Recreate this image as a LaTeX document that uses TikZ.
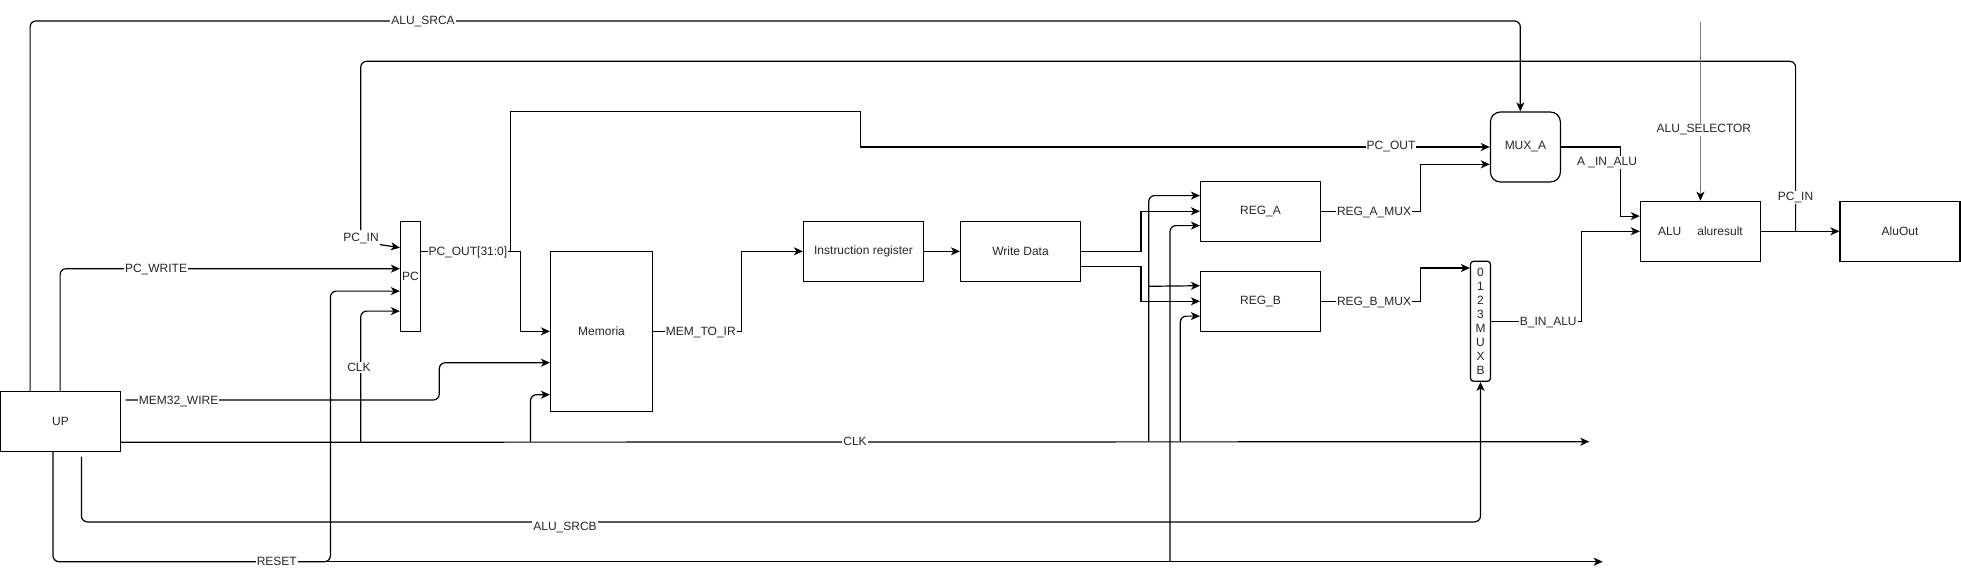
\documentclass[tikz,border=0pt]{standalone}
\usepackage{fontspec}
\setmainfont{Liberation Sans}
\usetikzlibrary{arrows.meta,calc}
\newcommand\labfont{\fontsize{12}{14}\selectfont}
\definecolor{txt}{HTML}{262626}
\definecolor{selgray}{HTML}{7A7A7A}
\begin{document}
\begin{tikzpicture}[x=1pt,y=-1pt,
  box/.style={draw,line width=1.2pt,inner sep=0pt,font=\labfont,text=txt,minimum width=120pt,minimum height=60pt},
  wire/.style={line width=1.2pt},
  arr/.style={wire,-{Stealth[length=9pt,width=8pt,inset=2.5pt]}},
  lbl/.style={fill=white,inner sep=1pt,font=\labfont,text=txt}]
\useasboundingbox (0,0) rectangle (1961,570);

% blocks
\node[box] (UP) at (60.5,421.5) {UP};
\node[box,minimum width=20pt,minimum height=110pt] (PC) at (410.5,276.3) {PC};
\node[box,minimum width=102pt,minimum height=160pt] (MEM) at (601.5,331.3) {Memoria};
\node[box] (IR) at (863.5,251.3) {Instruction register};
\node[box] (WD) at (1020.5,251.3) {Write Data};
\node[box] (REGA) at (1260.5,211.2) {REG\_A};
\node[box] (REGB) at (1260.5,301.3) {REG\_B};
\node[box,rounded corners=10pt,minimum width=70pt,minimum height=70pt] (MUXA) at (1525.4,147) {MUX\_A};
\node[box,rounded corners=3pt,minimum width=20pt,minimum height=120pt,align=center] (MUXB) at (1480.5,321.3) {0\\1\\2\\3\\M\\U\\X\\B};
\node[box] (ALU) at (1700.4,231.3) {ALU\hspace{16pt}aluresult};
\node[box] (AOUT) at (1900,231.3) {AluOut};

% free ends / junctions
\coordinate (pcinA) at (360.7,230);
\coordinate (rj) at (330.4,561.7);
\coordinate (resetend) at (1602.7,561.7);
\coordinate (clkend) at (1589.3,441.7);
\coordinate (c1) at (360.7,441.7);
\coordinate (c2) at (530.5,441.7);
\coordinate (c3) at (1148.7,441.7);
\coordinate (c3b) at (1148.7,286.3);
\coordinate (c4) at (1180.3,441.7);
\coordinate (r2) at (1170,561.7);
\coordinate (srcbst) at (81.4,456.7);
\coordinate (m32st) at (125.7,400);
\coordinate (pj) at (510.3,251.7);
\coordinate (selst) at (1700.4,21.7);

% ALU_SRCA
\draw[arr,rounded corners=6pt] ($(UP.north west)+(30.2,0)$) -- ++(0,-370) -| ($(MUXA.north)+(-5.1,0)$);
% PC_IN (from ALU result)
\draw[wire,rounded corners=6pt] ($(ALU.east)+(34.6,0)$) -- ++(0,-170) -| (pcinA);
\node[lbl,fill=none] (lpcin) at (361,238) {PC\_IN};
\draw[arr] (lpcin.south east) -- ($(PC.north west)+(0,27)$);
% PC_WRITE
\draw[arr,rounded corners=6pt] ($(UP.north west)+(60.2,0)$) |- ($(PC.north west)+(0,48)$);
% RESET
\draw[arr,rounded corners=6pt] ($(UP.south west)+(53.1,0)$) |- (rj) |- ($(PC.north west)+(0,70.4)$);
\draw[arr] ($(rj)+(-8,0)$) -- (resetend);
\draw[arr,rounded corners=6pt] (r2) |- ($(REGA.north west)+(0,45)$);
% CLK
\draw[arr] ($(UP.south east)+(0,-9.8)$) -- (clkend);
\draw[arr,rounded corners=6pt] (c1) |- ($(PC.north west)+(0,90.4)$);
\draw[arr,rounded corners=6pt] (c2) |- ($(MEM.north west)+(0,144)$);
\draw[arr,rounded corners=6pt] (c3) |- ($(REGA.north west)+(0,15)$);
\draw[arr] (c3b) -- ($(REGB.north west)+(0,15)$);
\draw[arr,rounded corners=6pt] (c4) |- ($(REGB.north west)+(0,45.4)$);
% ALU_SRCB
\draw[arr,rounded corners=6pt] (srcbst) |- ($(MUXB.south)+(0,140)$) -- (MUXB.south);
% MEM32_WIRE
\draw[arr,rounded corners=6pt] (m32st) -- ++(313.6,0) |- ($(MEM.north west)+(0,112)$);
% PC_OUT
\draw[arr] ($(PC.north east)+(0,30.4)$) -- ++(99.5,0) |- (MEM.west);
\draw[arr] (pj) -- ++(0,-140.4) -- ++(349.8,0) |- (MUXA.west);
% MEM_TO_IR
\draw[arr] (MEM.east) -- ++(88,0) |- (IR.west);
\draw[arr] (IR.east) -- (WD.west);
% Write data to registers
\draw[arr] (WD.east) -- ++(59.8,0) |- (REGA.west);
\draw[arr] ($(WD.east)+(0,15)$) -- ++(59.8,0) |- (REGB.west);
% register outputs
\draw[arr] (REGA.east) -- ++(99.5,0) |- ($(MUXA.west)+(0,17.3)$);
\draw[arr] (REGB.east) -- ++(99.5,0) |- ($(MUXB.north west)+(0,7.3)$);
% mux outputs
\draw[arr] (MUXA.east) -- ++(59.6,0) |- ($(ALU.north west)+(0,15.4)$);
\draw[arr] (MUXB.east) -- ++(90.5,0) |- (ALU.west);
\draw[arr] (ALU.east) -- (AOUT.west);
% ALU_SELECTOR
\draw[line width=1.6pt,draw=selgray,-{Stealth[length=9pt,width=8pt,inset=2.5pt,color=black]}] (selst) -- (ALU.north);

% labels
\node[lbl] (lsrca) at (423,21.5) {ALU\_SRCA};
\node[lbl] (lpcin2) at (1795.5,197.7) {PC\_IN};
\node[lbl] (lpcw) at (156,269.3) {PC\_WRITE};
\node[lbl] (lreset) at (276.8,561.7) {RESET};
\node[lbl] (lclk) at (855,441.7) {CLK};
\node[lbl] (lclk2) at (359,367.7) {CLK};
\node[lbl] (lsrcb) at (565,527) {ALU\_SRCB};
\node[lbl] (lm32) at (178.6,401.5) {MEM32\_WIRE};
\node[lbl] (lpco) at (467.9,252.7) {PC\_OUT[31:0]};
\node[lbl] (lpco2) at (1391,147) {PC\_OUT};
\node[lbl] (lmir) at (700.8,332.5) {MEM\_TO\_IR};
\node[lbl] (lram) at (1374,212) {REG\_A\_MUX};
\node[lbl] (lrbm) at (1374,302) {REG\_B\_MUX};
\node[lbl] (lain) at (1607,162.7) {A \_IN\_ALU};
\node[lbl] (lbin) at (1548.3,322.5) {B\_IN\_ALU};
\node[lbl] (lsel) at (1703.9,129.3) {ALU\_SELECTOR};
\end{tikzpicture}
\end{document}
